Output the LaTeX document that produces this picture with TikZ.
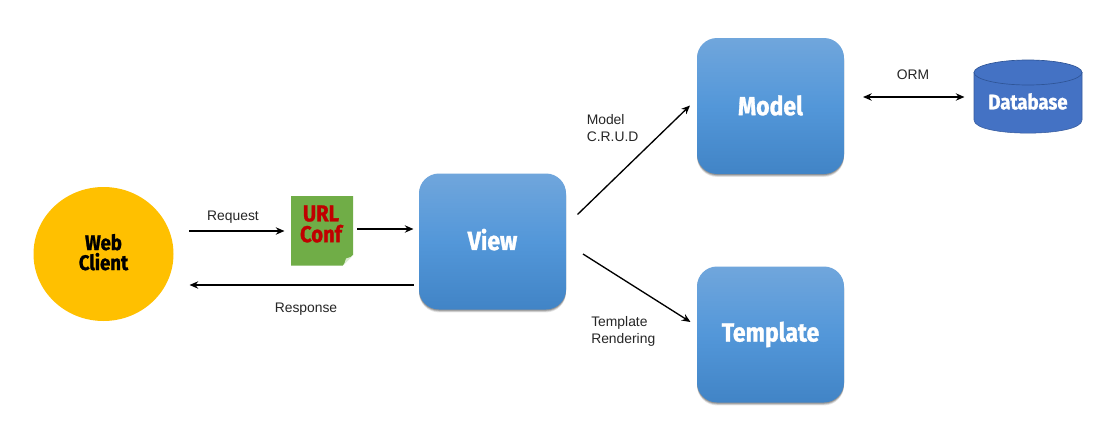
\documentclass[tikz,border=0pt]{standalone}
\usepackage{fontspec}
\setmainfont{Liberation Sans}
\newfontfamily\heavyfont{Fira Sans}[UprightFont=* Bold,BoldFont=* Bold,FakeStretch=0.88,FakeBold=1.2]
\usetikzlibrary{shadows,arrows.meta,shapes.geometric}
\definecolor{topblue}{HTML}{70A6DC}
\definecolor{midblue}{HTML}{5397D9}
\definecolor{botblue}{HTML}{4184C6}
\definecolor{dbblue}{HTML}{4472C4}
\definecolor{dbedge}{HTML}{2F5597}
\definecolor{clientgold}{HTML}{FFC000}
\definecolor{urlgreen}{HTML}{70AD47}
\definecolor{urlred}{HTML}{C00000}
\tikzset{
  x=0.75pt,y=-0.75pt,
  softshadow/.style={preaction={fill=black,opacity=0.10,transform canvas={yshift=-2.2pt}},
                     preaction={fill=black,opacity=0.16,transform canvas={yshift=-1.5pt}},
                     preaction={fill=black,opacity=0.22,transform canvas={yshift=-0.8pt}}},
  bluebox/.style={rounded corners=15pt,minimum width=110.25pt,minimum height=102pt,inner sep=0pt,
    softshadow,top color=topblue,bottom color=botblue,middle color=midblue,
    text=white},
  boxtext/.style={font=\heavyfont\fontsize{19.6}{21}\selectfont},
  conn/.style={draw=black,line width=1pt,-{Stealth[length=6.5pt,width=5.5pt]}},
  lbl/.style={font=\fontsize{10.4}{12.6}\selectfont,align=left,inner sep=0pt,text=black!85},
}
\begin{document}
\begin{tikzpicture}
\useasboundingbox (0,0) rectangle (1115,446);
\fill[white] (0,0) rectangle (1115,446);
% client
\node[ellipse,fill=clientgold,minimum width=105pt,minimum height=100.5pt,inner sep=0pt] (client) at (103.5,254) {};
\node[inner sep=0pt,align=center,font=\heavyfont\fontsize{15.8}{15}\selectfont] (clienttext) at (103.5,252.2) {Web\\Client};
% url conf
\fill[urlgreen] (291,196) -- (353,196) -- (353,255) -- (343,265.5) -- (291,265.5) -- cycle;
\fill[white] (353,255) -- (353,265.5) -- (343,265.5) -- cycle;
\fill[white!75!urlgreen] (344,264.5) -- (346,258.5) -- (352,256.5) -- cycle;
\node[inner sep=0pt,align=center,text=urlred,font=\heavyfont\fontsize{17.2}{15.6}\selectfont] (url) at (321,224) {URL\\Conf};
% boxes
\node[bluebox,boxtext] (view) at (492.5,241.5) {\raisebox{3.2pt}{View}};
\node[bluebox,boxtext] (model) at (770.5,106) {\raisebox{1.2pt}{Model}};
\node[bluebox,boxtext] (template) at (770.5,334.5) {Template};
% database
\fill[dbblue,draw=dbblue!80!black,line width=0.4pt] (974,72.5) -- (974,120) .. controls (974,137.5) and (1082,137.5) .. (1082,120) -- (1082,72.5) -- cycle;
\fill[dbblue,draw=dbedge,line width=0.5pt] (1028,72.5) ellipse[x radius=54,y radius=12.5];
\node[inner sep=0pt,text=white,font=\heavyfont\fontsize{15.8}{16}\selectfont] (db) at (1028,101.5) {Database};
% connector ends
\coordinate (reqA) at (189,231);
\coordinate (reqB) at (284.5,231);
\coordinate (urlA) at (357,229);
\coordinate (urlB) at (413.5,229);
\coordinate (resA) at (413.5,285);
\coordinate (resB) at (189.5,285);
\coordinate (modA) at (577.5,214.5);
\coordinate (modB) at (690,105.5);
\coordinate (temA) at (583,254);
\coordinate (temB) at (690.5,322);
\coordinate (ormA) at (863,97);
\coordinate (ormB) at (964.5,97);
\draw[conn] (reqA) -- (reqB);
\draw[conn] (urlA) -- (urlB);
\draw[conn] (resA) -- (resB);
\draw[conn] (modA) -- (modB);
\draw[conn] (temA) -- (temB);
\draw[conn,{Stealth[length=6.5pt,width=5.5pt]}-{Stealth[length=6.5pt,width=5.5pt]}] (ormA) -- (ormB);
% labels
\node[lbl] (l1) at (233,217) {Request};
\node[lbl] (l2) at (306,309) {Response};
\node[lbl,anchor=west] (l3) at (586.5,128) {Model\\C.R.U.D};
\node[lbl,anchor=west] (l4) at (591,331.5) {Template\\Rendering};
\node[lbl] (l5) at (913,74.5) {ORM};
\end{tikzpicture}
\end{document}
